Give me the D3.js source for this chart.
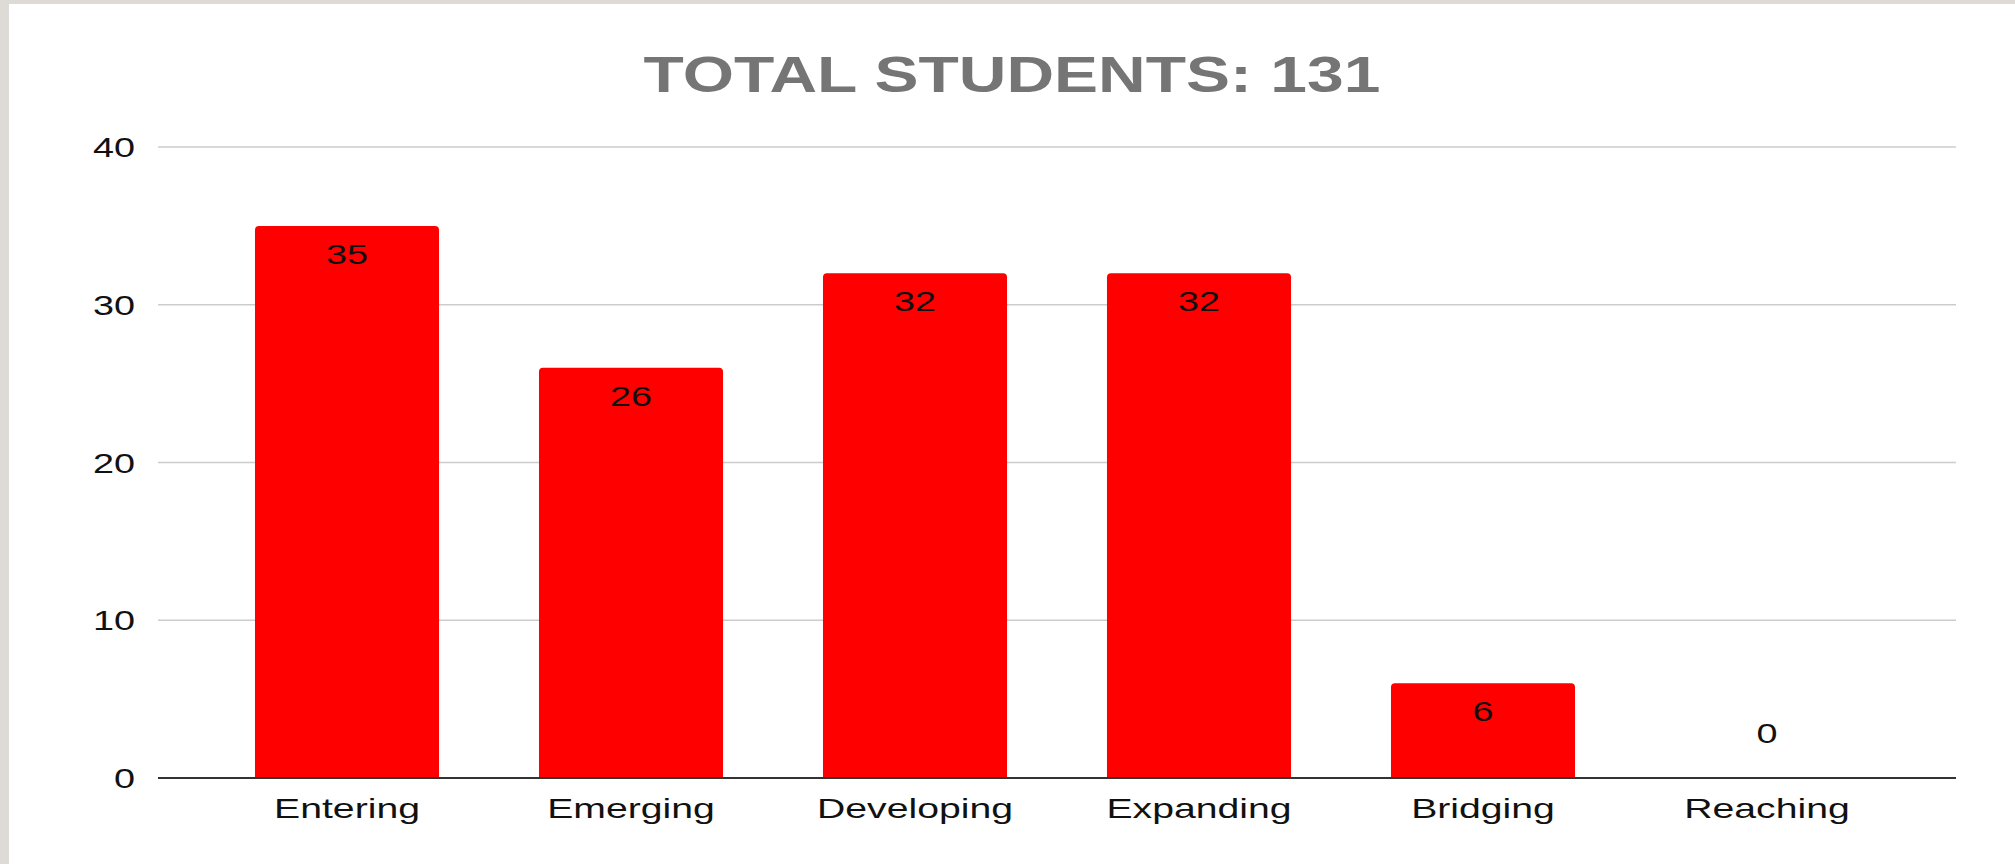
<!DOCTYPE html>
<html>
<head>
<meta charset="utf-8">
<script src="https://cdn.jsdelivr.net/npm/d3@7"></script>
<style>
  body { margin: 0; background: #fff; }
</style>
</head>
<body>
<div id="chart-div"></div>
<script>
var categories = ["Entering", "Emerging", "Developing", "Expanding", "Bridging", "Reaching"]
var students = [35, 26, 32, 32, 6, 0]
var yTicks = [0, 10, 20, 30, 40]
var titleText = "TOTAL STUDENTS: 131"

const svgWidth = 2015
const svgHeight = 864
var plotLeft = 158
var plotRight = 1956
var plotTop = 147
var plotBottom = 778
var fontFam = "'Liberation Sans', Arial, Helvetica, sans-serif"
var stretch = 1.4   // labels in the picture are drawn wide

var svg = d3.select("#chart-div")
    .append("svg")
    .attr("width", svgWidth)
    .attr("height", svgHeight)

// grey frame on left and top
svg.append("rect").attr("x", 0).attr("y", 0).attr("width", svgWidth).attr("height", svgHeight).style("fill", "#dedbd6")
svg.append("rect").attr("x", 9).attr("y", 4).attr("width", svgWidth - 9).attr("height", svgHeight - 4).style("fill", "#ffffff")

var xScale = d3.scaleBand()
    .domain(categories)
    .range([plotLeft, plotRight])
    .paddingInner(0.352)
    .paddingOuter(0.3415)

var yScale = d3.scaleLinear()
    .domain([0, 40])
    .range([plotBottom, plotTop])

// gridlines
svg.append("g")
    .selectAll("line")
    .data(yTicks.filter(d => d > 0))
    .enter()
    .append("line")
    .attr("x1", plotLeft)
    .attr("x2", plotRight)
    .attr("y1", d => yScale(d))
    .attr("y2", d => yScale(d))
    .style("stroke", "#cccccc")
    .style("stroke-width", "1.5px")

// y tick labels
svg.append("g")
    .selectAll("text")
    .data(yTicks)
    .enter()
    .append("text")
    .attr("transform", d => "translate(135," + (yScale(d) + 10) + ") scale(" + stretch + ",1)")
    .attr("text-anchor", "end")
    .style("font-family", fontFam)
    .style("font-size", "27px")
    .style("fill", "#111")
    .text(d => d)

function barPath(d) {
    var x0 = xScale(d.cat)
    var w = xScale.bandwidth()
    var y0 = yScale(d.val)
    var y1 = yScale(0)
    var r = Math.min(4, y1 - y0)
    if (y1 - y0 <= 0) return ""
    return "M" + x0 + "," + y1 +
        "V" + (y0 + r) +
        "Q" + x0 + "," + y0 + " " + (x0 + r) + "," + y0 +
        "H" + (x0 + w - r) +
        "Q" + (x0 + w) + "," + y0 + " " + (x0 + w) + "," + (y0 + r) +
        "V" + y1 + "Z"
}

var barData = categories.map((c, i) => ({cat: c, val: students[i]}))

svg.append("g")
    .selectAll("path")
    .data(barData)
    .enter()
    .append("path")
    .attr("d", barPath)
    .style("fill", "#ff0000")

// data labels
svg.append("g")
    .selectAll("text")
    .data(barData)
    .enter()
    .append("text")
    .attr("transform", d => {
        var cx = xScale(d.cat) + xScale.bandwidth() / 2
        var ty = d.val > 0 ? yScale(d.val) + 38 : yScale(0) - 35
        return "translate(" + cx + "," + ty + ") scale(" + stretch + ",1)"
    })
    .attr("text-anchor", "middle")
    .style("font-family", fontFam)
    .style("font-size", "27px")
    .style("fill", "#111")
    .text(d => d.val)

// x axis line
svg.append("line")
    .attr("x1", plotLeft)
    .attr("x2", plotRight)
    .attr("y1", yScale(0))
    .attr("y2", yScale(0))
    .style("stroke", "#333333")
    .style("stroke-width", "2px")

// category labels
svg.append("g")
    .selectAll("text")
    .data(categories)
    .enter()
    .append("text")
    .attr("transform", d => "translate(" + (xScale(d) + xScale.bandwidth() / 2) + ",818) scale(" + stretch + ",1)")
    .attr("text-anchor", "middle")
    .style("font-family", fontFam)
    .style("font-size", "28px")
    .style("fill", "#111")
    .text(d => d)

// title
svg.append("text")
    .attr("transform", "translate(1012,92) scale(1.32,1)")
    .attr("text-anchor", "middle")
    .style("font-family", fontFam)
    .style("font-size", "50px")
    .style("font-weight", "bold")
    .style("fill", "#757575")
    .text(titleText)
</script>
</body>
</html>
